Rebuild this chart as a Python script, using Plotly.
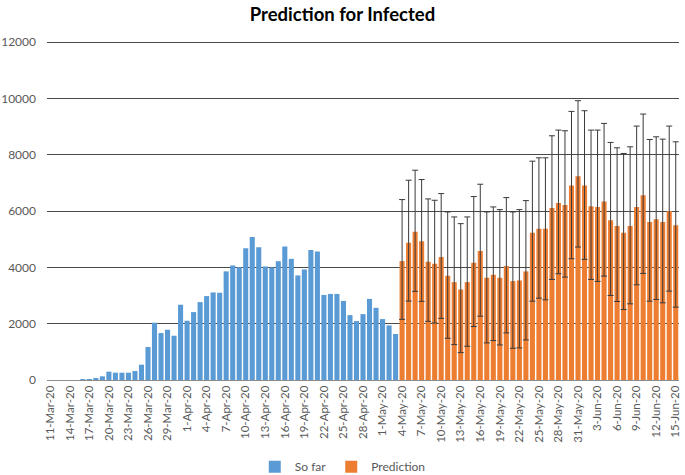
import pandas as pd
import plotly.graph_objects as go

# Categories: daily dates 11-Mar-2020 .. 15-Jun-2020
dates = pd.date_range("2020-03-11", "2020-06-15", freq="D")
labels = [f"{d.day}-{d.strftime('%b')}-20" for d in dates]

so_far_values = [0, 0, 0, 0, 0, 10, 20, 60, 130, 296, 260, 260, 260, 320, 544, 1171,
                 2035, 1668, 1786, 1573, 2674, 2106, 2413, 2768, 2981, 3111, 3100,
                 3860, 4070, 4010, 4680, 5080, 4716, 4034, 3998, 4222, 4739, 4304,
                 3716, 3928, 4622, 4563, 3022, 3058, 3058, 2810, 2305, 2093, 2340,
                 2881, 2564, 2164, 1940, 1635]

prediction_values = [4226, 4879, 5270, 4926, 4202, 4131, 4368, 3703, 3478, 3217, 3478,
                     4166, 4582, 3632, 3739, 3632, 4048, 3514, 3537, 3858, 5235, 5377,
                     5377, 6113, 6291, 6220, 6908, 7241, 6908, 6172, 6149, 6339, 5674,
                     5472, 5235, 5472, 6149, 6564, 5615, 5709, 5615, 6006, 5496]

prediction_upper = [6410, 7098, 7454, 7122, 6434, 6386, 6623, 5971, 5793, 5555, 5793,
                    6517, 6956, 5971, 6149, 6054, 6481, 5971, 6054, 6374, 7775, 7894,
                    7894, 8677, 8879, 8855, 9543, 9923, 9567, 8879, 8879, 9116, 8440,
                    8250, 8048, 8285, 9021, 9449, 8546, 8641, 8558, 9021, 8463]

prediction_lower = [2155, 2805, 3149, 2794, 2084, 2024, 2190, 1484, 1258, 973, 1199,
                    1899, 2267, 1318, 1401, 1246, 1674, 1128, 1140, 1424, 2801, 2908,
                    2849, 3573, 3775, 3656, 4309, 4724, 4285, 3573, 3502, 3692, 3003,
                    2789, 2505, 2706, 3383, 3787, 2801, 2861, 2742, 3157, 2588]

y_ticks = [0, 2000, 4000, 6000, 8000, 10000, 12000]

n_so_far = len(so_far_values)
x_so_far = labels[:n_so_far]
x_pred = labels[n_so_far:n_so_far + len(prediction_values)]

err_plus = [u - v for u, v in zip(prediction_upper, prediction_values)]
err_minus = [v - l for v, l in zip(prediction_values, prediction_lower)]

FONT = "Lato, 'Open Sans', sans-serif"
TXT = "#595959"

fig = go.Figure()
fig.add_trace(go.Bar(x=x_so_far, y=so_far_values, name="So far",
                     marker=dict(color="#5B9BD5", line=dict(width=0))))
fig.add_trace(go.Bar(x=x_pred, y=prediction_values, name="Prediction",
                     marker=dict(color="#ED7D31", line=dict(width=0)),
                     error_y=dict(type="data", symmetric=False, array=err_plus,
                                  arrayminus=err_minus, color="#3a3a3a",
                                  thickness=1, width=3)))

fig.update_layout(
    width=685, height=475,
    margin=dict(l=47, r=6, t=40, b=95, autoexpand=False),
    paper_bgcolor="white", plot_bgcolor="white",
    barmode="overlay", bargap=0.22,
    title=dict(text="<b>Prediction for Infected</b>", x=0.5, xref="container",
               xanchor="center", y=0.97, yanchor="middle",
               font=dict(family=FONT, size=18.5, color="#000000")),
    font=dict(family=FONT, size=11, color=TXT),
    showlegend=True,
    legend=dict(orientation="h", x=0.468, xanchor="center",
                y=-0.255, yanchor="middle", font=dict(size=12, color=TXT),
                itemwidth=30, tracegroupgap=0, bgcolor="rgba(0,0,0,0)"),
    xaxis=dict(type="category", categoryorder="array", categoryarray=labels,
               tickmode="array", tickvals=labels[::3], ticktext=labels[::3],
               tickangle=-90, tickfont=dict(size=11.5, color=TXT),
               showline=True, linecolor="#8c8c8c", linewidth=1,
               showgrid=False, ticks="", range=[-0.5, len(labels) - 0.5],
               automargin=False),
    yaxis=dict(range=[0, 12080], tickvals=y_ticks, ticktext=[str(t) for t in y_ticks],
               showgrid=True, gridcolor="#4a4a4a", gridwidth=1, zeroline=False,
               tickfont=dict(size=12, color=TXT), ticks="", ticklen=0,
               ticklabelstandoff=10,
               showline=False, automargin=False),
)

fig.write_html("out.html", config={"displayModeBar": False},
               post_script="document.body.style.margin='0px';document.body.style.padding='0px';")
